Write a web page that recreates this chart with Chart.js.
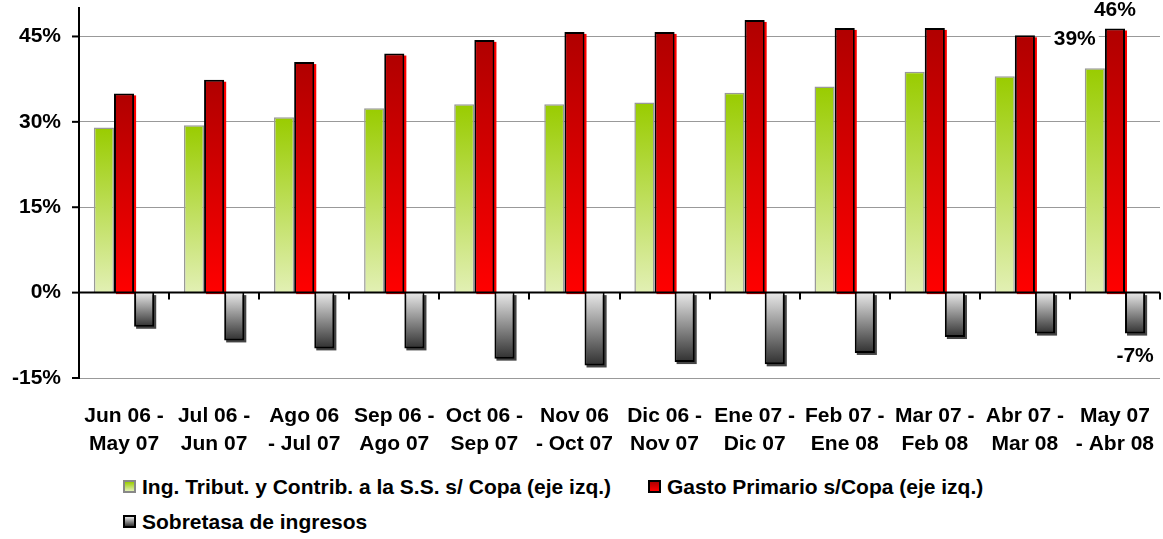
<!DOCTYPE html>
<html>
<head>
<meta charset="utf-8">
<script src="https://cdn.jsdelivr.net/npm/chart.js@4.4.1/dist/chart.umd.min.js"></script>
<style>
  html, body { margin: 0; padding: 0; background: #fff; }
  #wrap { position: relative; width: 1163px; height: 539px; font-family: "Liberation Sans", Arial, sans-serif; font-weight: bold; }
  #box { position: absolute; left: 0; top: 0; width: 1163px; height: 465px; }
  .leg { position: absolute; font-size: 21px; color: #000; white-space: nowrap; line-height: 24px; }
  .sw { display: inline-block; box-sizing: border-box; width: 13px; height: 13px; margin-right: 6px; vertical-align: 1px; }
</style>
</head>
<body>
<div id="wrap">
  <div id="box"><canvas id="c"></canvas></div>
  <div class="leg" style="left:123px; top:475px"><span class="sw" style="border:2px solid #888; background:linear-gradient(#99cc00,#e2f0b4)"></span>Ing. Tribut. y Contrib. a la S.S. s/ Copa (eje izq.)</div>
  <div class="leg" style="left:648px; top:475px"><span class="sw" style="border:2px solid #000; background:linear-gradient(#b00000,#ff0000)"></span>Gasto Primario s/Copa (eje izq.)</div>
  <div class="leg" style="left:123px; top:510px"><span class="sw" style="border:2px solid #000; background:linear-gradient(#e6e6e6,#333)"></span>Sobretasa de ingresos</div>
</div>
<script>
// datos (% interanual, móvil 12 meses)
var periodos = [
  ['Jun 06 -', 'May 07'], ['Jul 06 -', 'Jun 07'], ['Ago 06', '- Jul 07'], ['Sep 06 -', 'Ago 07'],
  ['Oct 06 -', 'Sep 07'], ['Nov 06', '- Oct 07'], ['Dic 06 -', 'Nov 07'], ['Ene 07 -', 'Dic 07'],
  ['Feb 07 -', 'Ene 08'], ['Mar 07 -', 'Feb 08'], ['Abr 07 -', 'Mar 08'], ['May 07', '- Abr 08']
];
var ingresos = [29.0, 29.4, 30.8, 32.4, 33.1, 33.1, 33.4, 35.1, 36.2, 38.8, 38.0, 39.4];
var gasto    = [35.0, 37.4, 40.5, 42.0, 44.4, 45.8, 45.8, 47.9, 46.5, 46.5, 45.2, 46.4];
var sobretasa = [-6.0, -8.4, -9.8, -9.8, -11.6, -12.8, -12.2, -12.6, -10.6, -7.8, -7.2, -7.2];
var yTicks = [-15, 0, 15, 30, 45];

var FAM = "'Liberation Sans', Arial, sans-serif";

// gradiente por barra: de la punta a la base (cero)
function grad(top, base, light) {
  return function (ctx) {
    var ch = ctx.chart;
    if (!ch.chartArea || ctx.parsed == null || ctx.parsed.y == null) return base;
    var ys = ch.scales.y;
    var g = ch.ctx.createLinearGradient(0, ys.getPixelForValue(ctx.parsed.y), 0, ys.getPixelForValue(0));
    g.addColorStop(0, top); g.addColorStop(1, light);
    return g;
  };
}

// sombras de barras, línea del cero con marcas y rótulos de la última barra
var extras = {
  id: 'extras',
  beforeDatasetsDraw: function (ch) {
    var c = ch.ctx;
    c.save();
    [[1, '#ff0000'], [2, '#444']].forEach(function (p) {
      c.fillStyle = p[1];
      ch.getDatasetMeta(p[0]).data.forEach(function (b) {
        var t = Math.min(b.y, b.base), h = Math.abs(b.base - b.y);
        c.fillRect(b.x - b.width / 2 + 2, t + 2, b.width, h);
      });
    });
    c.restore();
  },
  afterDatasetsDraw: function (ch) {
    var c = ch.ctx, a = ch.chartArea, ys = ch.scales.y, y0 = ys.getPixelForValue(0);
    var step = (a.right - a.left) / periodos.length;
    c.save();
    c.strokeStyle = '#000'; c.lineWidth = 2;
    c.beginPath(); c.moveTo(a.left, y0); c.lineTo(a.right, y0); c.stroke();
    yTicks.forEach(function (v) {
      var y = ys.getPixelForValue(v);
      c.beginPath(); c.moveTo(a.left - 7, y); c.lineTo(a.left, y); c.stroke();
    });
    for (var i = 1; i <= periodos.length; i++) {
      var x = Math.round(a.left + step * i);
      c.beginPath(); c.moveTo(x, y0); c.lineTo(x, y0 + 7); c.stroke();
    }
    c.font = 'bold 21px ' + FAM; c.fillStyle = '#000';
    c.textAlign = 'center'; c.textBaseline = 'middle';
    var last = periodos.length - 1;
    var bg = ch.getDatasetMeta(0).data[last], br = ch.getDatasetMeta(1).data[last], bs = ch.getDatasetMeta(2).data[last];
    var t39 = Math.round(ingresos[last]) + '%';
    var w = c.measureText(t39).width;
    c.fillStyle = '#fff'; c.fillRect(bg.x - bg.width - w / 2 - 3, bg.y - 41, w + 6, 24);
    c.fillStyle = '#000';
    c.fillText(t39, bg.x - bg.width, bg.y - 29);
    c.fillText(Math.round(gasto[last]) + '%', br.x, br.y - 18);
    c.fillText(Math.round(sobretasa[last]) + '%', bs.x, bs.y + 23);
    c.restore();
  }
};

new Chart(document.getElementById('c'), {
  type: 'bar',
  data: {
    labels: periodos,
    datasets: [
      { label: 'Ing. Tribut. y Contrib. a la S.S. s/ Copa (eje izq.)', data: ingresos,
        backgroundColor: grad('#99cc00', '#b8dc5a', '#e2f0b4'), borderColor: '#999', borderWidth: 1.5 },
      { label: 'Gasto Primario s/Copa (eje izq.)', data: gasto,
        backgroundColor: grad('#b00000', '#e00000', '#ff0000'), borderColor: '#000', borderWidth: 2 },
      { label: 'Sobretasa de ingresos', data: sobretasa,
        backgroundColor: grad('#303030', '#888', '#e8e8e8'), borderColor: '#000', borderWidth: 2 }
    ]
  },
  options: {
    responsive: true, maintainAspectRatio: false, animation: false,
    layout: { padding: { top: 8, right: 3, left: 0, bottom: 0 } },
    categoryPercentage: 0.67, barPercentage: 1.0,
    plugins: { legend: { display: false }, tooltip: { enabled: false } },
    scales: {
      x: {
        grid: { display: false }, border: { display: false },
        ticks: { color: '#000', font: { family: FAM, size: 21, weight: 'bold', lineHeight: 1.33 }, padding: 16, autoSkip: false, maxRotation: 0 },
        afterFit: function (s) { s.height = 87; s.paddingLeft = 0; s.paddingRight = 0; }
      },
      y: {
        min: -15, max: 50,
        afterBuildTicks: function (s) { s.ticks = yTicks.map(function (v) { return { value: v }; }); },
        grid: { color: '#999', lineWidth: 1, tickLength: 0 },
        border: { color: '#000', width: 2 },
        ticks: { color: '#000', font: { family: FAM, size: 21, weight: 'bold' }, padding: 18, callback: function (v) { return v + '%'; } },
        afterFit: function (s) { s.width = 79; s.paddingTop = 0; s.paddingBottom = 0; }
      }
    }
  },
  plugins: [extras]
});
</script>
</body>
</html>
